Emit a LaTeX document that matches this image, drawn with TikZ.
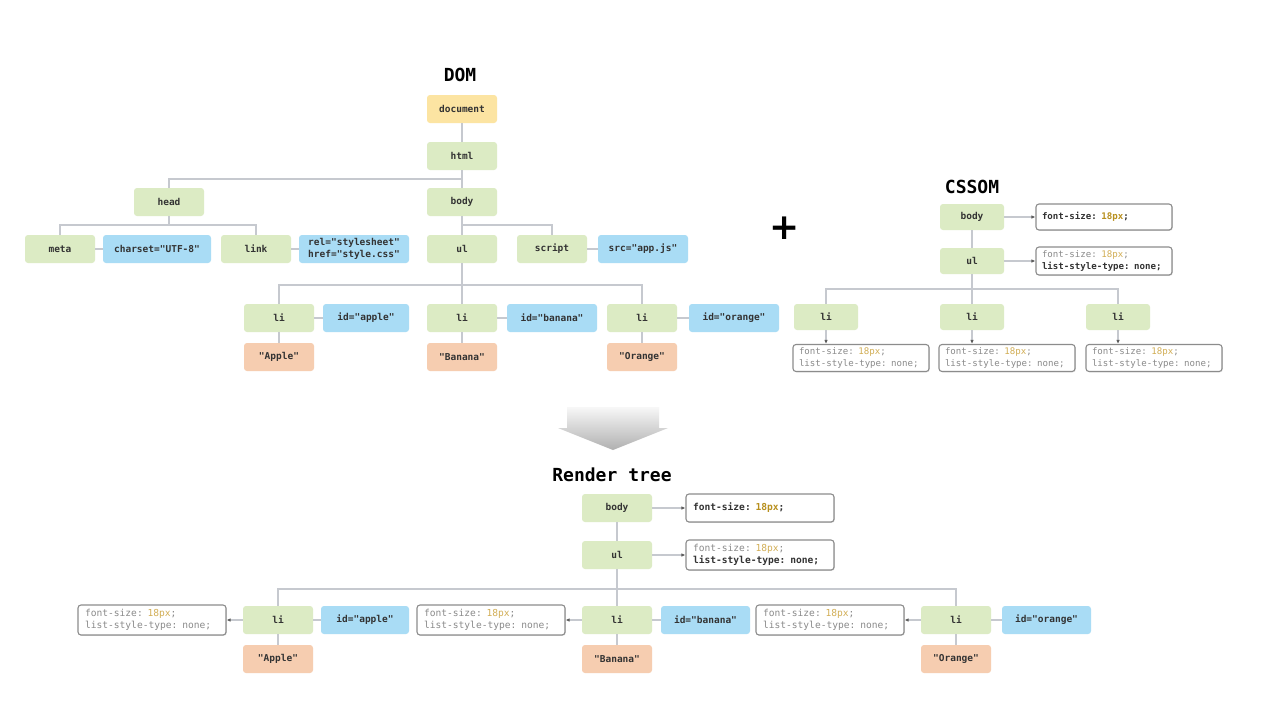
\documentclass[tikz,border=0pt]{standalone}
\usepackage{fontspec}
\setmainfont{DejaVu Sans}
\setmonofont{DejaVu Sans Mono}
\usetikzlibrary{arrows.meta,shadows}
\definecolor{ngreen}{HTML}{DCEBC4}
\definecolor{nblue}{HTML}{A9DCF5}
\definecolor{npeach}{HTML}{F6CDB0}
\definecolor{nyellow}{HTML}{FCE4A2}
\definecolor{txt}{HTML}{333333}
\definecolor{lgray}{HTML}{8A8A8A}
\definecolor{gold}{HTML}{B8901E}
\definecolor{lgold}{HTML}{D2AE55}
\definecolor{connc}{HTML}{C6C9CF}
\definecolor{boxline}{HTML}{8C8C8C}
\newcommand\strongfs{{\bfseries\textcolor{txt}{font-size: }\textcolor{gold}{18px}\textcolor{txt}{;}}}
\newcommand\weakfs{{\mdseries\textcolor{lgray}{font-size: }\textcolor{lgold}{18px}\textcolor{lgray}{;}}}
\newcommand\stronglst{{\bfseries\textcolor{txt}{list-style-type: none;}}}
\newcommand\weaklst{{\mdseries\textcolor{lgray}{list-style-type: none;}}}
\tikzset{
  base/.style={rounded corners=3pt, inner sep=0pt, text=txt,
    font=\ttfamily\bfseries\fontsize{9.5}{11.5}\selectfont},
  gnode/.style={base, fill=ngreen, minimum width=70pt, minimum height=28pt},
  cnode/.style={base, fill=ngreen, minimum width=64pt, minimum height=26pt},
  ynode/.style={base, fill=nyellow, minimum width=70pt, minimum height=28pt},
  tnode/.style={base, fill=npeach, minimum width=70pt, minimum height=28pt},
  bnode/.style={base, fill=nblue, minimum width=#1, minimum height=28pt, align=center},
  pbox/.style={draw=boxline, line width=1.1pt, fill=white, rounded corners=3pt,
    align=left, text width=#1, inner xsep=7pt, inner ysep=0pt, minimum height=29pt,
    font=\ttfamily\fontsize{9.6}{12}\selectfont,
    drop shadow={shadow xshift=0.8pt, shadow yshift=-0.8pt, opacity=0.25}},
  cbox/.style={pbox=#1, inner xsep=6pt, minimum height=27pt,
    font=\ttfamily\fontsize{9.1}{11.5}\selectfont},
  titlet/.style={font=\ttfamily\bfseries\fontsize{18}{20}\selectfont, text=black, inner sep=0pt},
  conn/.style={draw=connc, line width=1.4pt},
  arr/.style={draw=connc, line width=1.2pt, -{Latex[length=4pt,width=3.5pt,color=txt!80]}},
}
\begin{document}
\begin{tikzpicture}[x=1pt,y=-1pt]
\fill[white] (0,0) rectangle (1276,716);
\useasboundingbox (0,0) rectangle (1276,716);

% ===== DOM =====
\node[titlet] (tdom) at (460,75) {DOM};
\coordinate (j1) at (462,179);
\coordinate (j2) at (169,225);
\coordinate (j3) at (462,225);
\coordinate (j4) at (462,285);
\node[ynode] (doc) at (462,109) {document};
\node[gnode] (html) at (462,156) {html};
\node[gnode] (head) at (169,202) {head};
\node[gnode] (body) at (462,202) {body};
\node[gnode] (meta) at (60,249) {meta};
\node[bnode=108pt] (charset) at (157,249) {charset="UTF-8"};
\node[gnode] (link) at (256,249) {link};
\node[bnode=110pt] (rel) at (354,249) {rel="stylesheet"\\href="style.css"};
\node[gnode] (ul) at (462,249) {ul};
\node[gnode] (script) at (552,249) {script};
\node[bnode=90pt] (src) at (643,249) {src="app.js"};
\node[gnode] (li1) at (279,318) {li};
\node[bnode=86pt] (id1) at (366,318) {id="apple"};
\node[gnode] (li2) at (462,318) {li};
\node[bnode=90pt] (id2) at (552,318) {id="banana"};
\node[gnode] (li3) at (642,318) {li};
\node[bnode=90pt] (id3) at (734,318) {id="orange"};
\node[tnode] (t1) at (279,357) {"Apple"};
\node[tnode] (t2) at (462,357) {"Banana"};
\node[tnode] (t3) at (642,357) {"Orange"};

\draw[conn] (doc) -- (html);
\draw[conn] (html) -- (body);
\draw[conn] (j1) -| (head);
\draw[conn] (head) -- (j2);
\draw[conn] (meta.north) |- (j2) -| (link.north);
\draw[conn] (body) -- (ul);
\draw[conn] (j3) -| (script.north);
\draw[conn] (meta) -- (charset);
\draw[conn] (link) -- (rel);
\draw[conn] (script) -- (src);
\draw[conn] (ul) -- (li2);
\draw[conn] (li1.north) |- (j4) -| (li3.north);
\draw[conn] (li1) -- (id1);
\draw[conn] (li2) -- (id2);
\draw[conn] (li3) -- (id3);
\draw[conn] (li1) -- (t1);
\draw[conn] (li2) -- (t2);
\draw[conn] (li3) -- (t3);

% ===== plus =====
\node[font=\rmfamily\bfseries\fontsize{36}{36}\selectfont, text=black, inner sep=0pt] (plus) at (785,228) {+};

% ===== CSSOM =====
\node[titlet] (tcss) at (972,187) {CSSOM};
\coordinate (cj) at (972,289);
\node[cnode] (cbody) at (972,217) {body};
\node[cbox=124pt, minimum height=26pt] (cbodyp) at (1104,217) {\strongfs};
\node[cnode] (cul) at (972,261) {ul};
\node[cbox=124pt, minimum height=28pt] (culp) at (1104,261) {\weakfs\\\stronglst};
\node[cnode] (cli1) at (826,317) {li};
\node[cnode] (cli2) at (972,317) {li};
\node[cnode] (cli3) at (1118,317) {li};
\node[cbox=124pt] (cp1) at (861,358) {\weakfs\\\weaklst};
\node[cbox=124pt] (cp2) at (1007,358) {\weakfs\\\weaklst};
\node[cbox=124pt] (cp3) at (1154,358) {\weakfs\\\weaklst};

\draw[conn] (cbody) -- (cul);
\draw[conn] (cul) -- (cli2);
\draw[conn] (cli1.north) |- (cj) -| (cli3.north);
\draw[arr] (cbody) -- (cbodyp);
\draw[arr] (cul) -- (culp);
\draw[arr] (cli1.south) -- (cli1.south |- cp1.north);
\draw[arr] (cli2.south) -- (cli2.south |- cp2.north);
\draw[arr] (cli3.south) -- (cli3.south |- cp3.north);

% ===== big arrow =====
\shade[top color=gray!6, bottom color=gray!62]
  (567,407) -- (659,407) -- (659,428) -- (668,428) -- (613,450) -- (558,428) -- (567,428) -- cycle;

% ===== Render tree =====
\node[titlet] (trt) at (612,475) {Render tree};
\coordinate (rj) at (617,589);
\node[gnode] (rbody) at (617,508) {body};
\node[pbox=134pt, minimum height=28pt] (rbodyp) at (760,508) {\strongfs};
\node[gnode] (rul) at (617,555) {ul};
\node[pbox=134pt, minimum height=30pt] (rulp) at (760,555) {\weakfs\\\stronglst};
\node[gnode] (rli1) at (278,620) {li};
\node[bnode=88pt] (rid1) at (365,620) {id="apple"};
\node[pbox=134pt, minimum height=30pt] (rp1) at (152,620) {\weakfs\\\weaklst};
\node[gnode] (rli2) at (617,620) {li};
\node[bnode=89pt] (rid2) at (705.5,620) {id="banana"};
\node[pbox=134pt, minimum height=30pt] (rp2) at (491,620) {\weakfs\\\weaklst};
\node[gnode] (rli3) at (956,620) {li};
\node[bnode=89pt] (rid3) at (1046.5,620) {id="orange"};
\node[pbox=134pt, minimum height=30pt] (rp3) at (830,620) {\weakfs\\\weaklst};
\node[tnode] (rt1) at (278,659) {"Apple"};
\node[tnode] (rt2) at (617,659) {"Banana"};
\node[tnode] (rt3) at (956,659) {"Orange"};

\draw[conn] (rbody) -- (rul);
\draw[conn] (rul) -- (rli2);
\draw[conn] (rli1.north) |- (rj) -| (rli3.north);
\draw[arr] (rbody) -- (rbodyp);
\draw[arr] (rul) -- (rulp);
\draw[arr] (rli1) -- (rp1);
\draw[arr] (rli2) -- (rp2);
\draw[arr] (rli3) -- (rp3);
\draw[conn] (rli1) -- (rid1);
\draw[conn] (rli2) -- (rid2);
\draw[conn] (rli3) -- (rid3);
\draw[conn] (rli1) -- (rt1);
\draw[conn] (rli2) -- (rt2);
\draw[conn] (rli3) -- (rt3);
\end{tikzpicture}
\end{document}
